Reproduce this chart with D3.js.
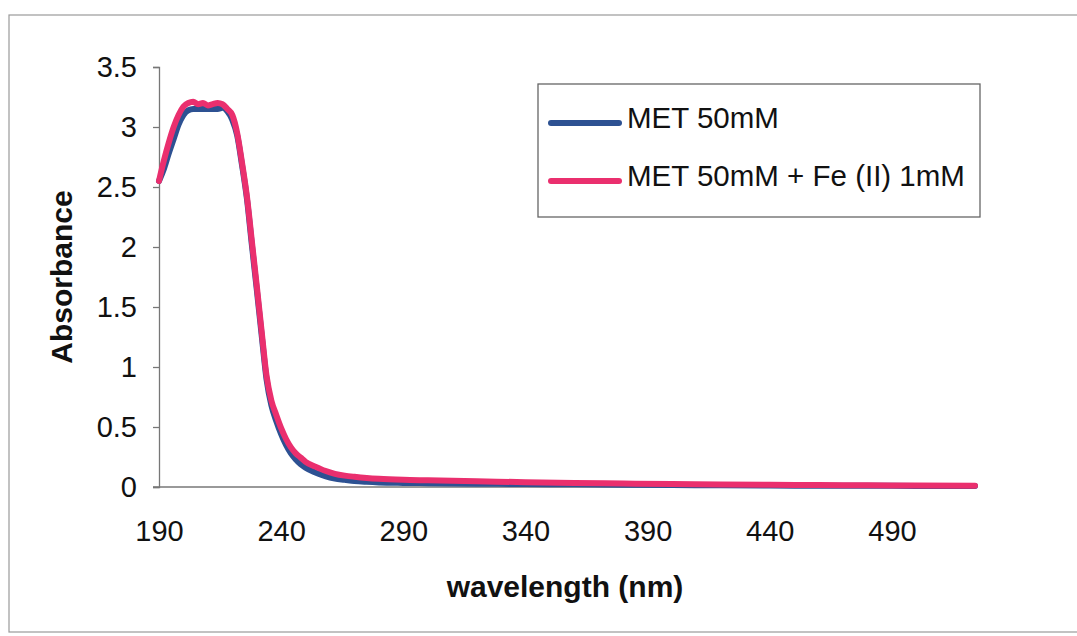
<!DOCTYPE html>
<html>
<head>
<meta charset="utf-8">
<script src="https://cdn.jsdelivr.net/npm/d3@7"></script>
<style>
  html, body { margin: 0; padding: 0; background: #fff; }
  svg { display: block; font-family: Arial, "Liberation Sans", sans-serif; }
</style>
</head>
<body>
<svg id="chart" width="1077" height="636"></svg>
<script>
// UV absorbance spectra (wavelength in nm)
const wavelengths = [190,192,194,196,198,200,202,204,206,208,210,212,214,216,218,220,222,224,226,228,230,232,234,236,238,240,242,244,246,248,250,254,258,262,266,270,275,280,290,300,320,340,360,380,400,420,440,460,480,500,524];

const metOnly = [2.55,2.65,2.78,2.90,3.02,3.10,3.14,3.15,3.15,3.15,3.15,3.15,3.15,3.16,3.13,3.06,2.93,2.68,2.40,2.02,1.65,1.27,0.90,0.68,0.55,0.44,0.35,0.28,0.23,0.19,0.16,0.12,0.09,0.07,0.06,0.05,0.043,0.038,0.034,0.032,0.028,0.025,0.022,0.019,0.016,0.014,0.012,0.011,0.010,0.009,0.008];

const metFe = [2.55,2.72,2.87,3.00,3.10,3.17,3.20,3.21,3.19,3.20,3.18,3.19,3.20,3.19,3.15,3.10,2.95,2.70,2.42,2.05,1.68,1.30,0.93,0.72,0.60,0.49,0.40,0.33,0.28,0.245,0.21,0.17,0.135,0.11,0.095,0.085,0.075,0.068,0.060,0.056,0.048,0.040,0.034,0.029,0.025,0.021,0.018,0.016,0.014,0.012,0.010];

const seriesNames = ["MET 50mM", "MET 50mM + Fe (II) 1mM"];
const seriesColors = ["#2d5192", "#ea2f6e"];
const xTicks = [190, 240, 290, 340, 390, 440, 490];
const yTicks = [0, 0.5, 1, 1.5, 2, 2.5, 3, 3.5];

const svg = d3.select("#chart");

// outer chart frame
svg.append("rect")
  .attr("x", 9).attr("y", 15)
  .attr("width", 1080).attr("height", 617)
  .attr("fill", "none").attr("stroke", "#9a9a9a").attr("stroke-width", 1.2);

const x = d3.scaleLinear().domain([190, 524]).range([159, 975]);
const y = d3.scaleLinear().domain([0, 3.5]).range([487, 67]);

// y axis
const yAxis = svg.append("g")
  .attr("transform", `translate(${x.range()[0]},0)`)
  .call(d3.axisLeft(y).tickValues(yTicks).tickSize(6).tickPadding(16)
    .tickFormat(d3.format("~g")));
yAxis.select(".domain").attr("stroke", "#777").attr("stroke-width", 1.3);
yAxis.selectAll(".tick line").attr("stroke", "#777").attr("stroke-width", 1.3);
yAxis.selectAll(".tick text")
  .attr("font-size", 29).attr("fill", "#111")
  .attr("font-family", "Arial, 'Liberation Sans', sans-serif");

// x axis (no tick marks, labels only)
const xAxis = svg.append("g")
  .attr("transform", `translate(0,${y(0)})`)
  .call(d3.axisBottom(x).tickValues(xTicks).tickSize(0).tickPadding(33)
    .tickFormat(d3.format("d")));
xAxis.select(".domain").attr("stroke", "#777").attr("stroke-width", 1.3)
  .attr("d", `M${x.range()[0] - 6},0H${x.range()[1]}`);
xAxis.selectAll(".tick text")
  .attr("font-size", 29).attr("fill", "#111")
  .attr("font-family", "Arial, 'Liberation Sans', sans-serif");

// axis titles
svg.append("text")
  .attr("x", 565).attr("y", 597)
  .attr("text-anchor", "middle")
  .attr("font-size", 30).attr("font-weight", "bold").attr("fill", "#111")
  .text("wavelength (nm)");

svg.append("text")
  .attr("transform", `translate(72,${(y(0) + y(3.5)) / 2}) rotate(-90)`)
  .attr("text-anchor", "middle")
  .attr("font-size", 30).attr("font-weight", "bold").attr("fill", "#111")
  .text("Absorbance");

// spectra
const line = d3.line()
  .x((d, i) => x(wavelengths[i]))
  .y(d => y(d))
  .curve(d3.curveMonotoneX);

[metOnly, metFe].forEach((vals, k) => {
  svg.append("path")
    .datum(vals)
    .attr("d", line)
    .attr("fill", "none")
    .attr("stroke", seriesColors[k])
    .attr("stroke-width", 6)
    .attr("stroke-linejoin", "round")
    .attr("stroke-linecap", "round");
});

// legend
const legend = svg.append("g");
legend.append("rect")
  .attr("x", 538).attr("y", 84)
  .attr("width", 442).attr("height", 133)
  .attr("fill", "#fff").attr("stroke", "#666").attr("stroke-width", 1.3);

const legendRows = [123, 181];
seriesNames.forEach((name, k) => {
  legend.append("line")
    .attr("x1", 551).attr("x2", 619)
    .attr("y1", legendRows[k]).attr("y2", legendRows[k])
    .attr("stroke", seriesColors[k]).attr("stroke-width", 6)
    .attr("stroke-linecap", "round");
  legend.append("text")
    .attr("x", 627).attr("y", legendRows[k] + 5)
    .attr("font-size", 29.5).attr("fill", "#111")
    .text(name);
});
</script>
</body>
</html>
